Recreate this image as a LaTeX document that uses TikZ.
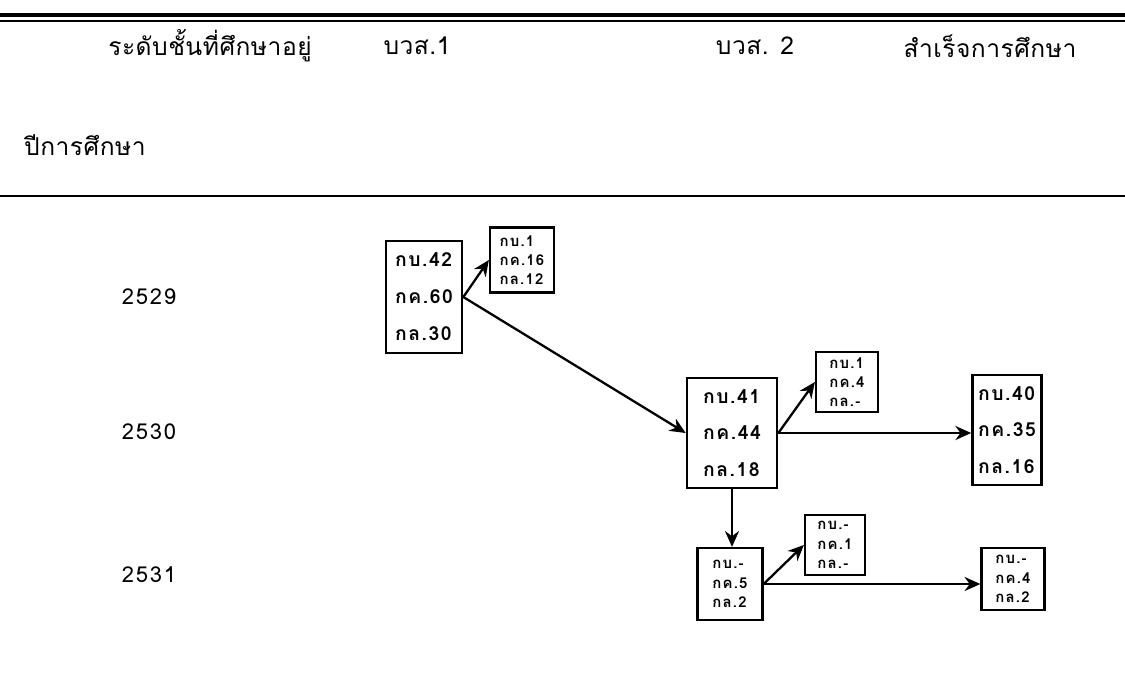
\documentclass[tikz,border=0pt]{standalone}
\usepackage{fontspec}
\newfontfamily\thaifont[Script=Thai,LetterSpace=2]{Loma}
\newfontfamily\boxfont[Script=Thai,LetterSpace=8]{Loma}
\usetikzlibrary{arrows.meta}

\begin{document}
\begin{tikzpicture}[
    x=0.02cm, y=-0.02cm,
    font=\boxfont\bfseries\fontsize{11}{21}\selectfont,
    >={Stealth[length=9pt,width=8pt]},
    tally/.style={draw, line width=1.5pt, align=left, inner sep=0pt},
    tallysmall/.style={tally, line width=1.3pt, font=\boxfont\bfseries\fontsize{8.5}{11}\selectfont},
    heading/.style={font=\thaifont\fontsize{14}{16}\selectfont},
    year/.style={font=\boxfont\fontsize{12.5}{14}\selectfont},
    link/.style={->, line width=1.3pt}
]

% One pixel of the scan
\def\px{0.02cm}

\useasboundingbox (0,0) rectangle (1125,694);

% Table rules
\draw[line width=2pt] (0,15) -- (1125,15);
\draw[line width=1.2pt] (0,21) -- (1125,21);
\draw[line width=1.6pt] (0,196) -- (1125,196);

% Column headers
\node[heading] (hlevel) at (210,46) {ระดับชั้นที่ศึกษาอยู่};
\node[heading] (hone) at (417,46) {บวส.1};
\node[heading] (htwo) at (755,46) {บวส. 2};
\node[heading] (hdone) at (990,46) {สำเร็จการศึกษา};
\node[heading, anchor=west] (hyear) at (18,145) {ปีการศึกษา};

% Year labels
\node[year] (y29) at (149,297) {2529};
\node[year] (y30) at (149,432) {2530};
\node[year] (y31) at (149,575) {2531};

% Large boxes
\node[tally, minimum width=76*\px, minimum height=112*\px] (A) at (424,297) {กบ.42\\กค.60\\กล.30};
\node[tally, minimum width=90*\px, minimum height=110*\px] (C) at (732,433) {กบ.41\\กค.44\\กล.18};
\node[tally, minimum width=69*\px, minimum height=110*\px] (D) at (1007,430) {กบ.40\\กค.35\\กล.16};

% Small boxes
\node[tallysmall, minimum width=64*\px, minimum height=65*\px] (B1) at (522,260) {กบ.1\\กค.16\\กล.12};
\node[tallysmall, minimum width=62*\px, minimum height=60*\px] (B2) at (847,382) {กบ.1\\กค.4\\กล.-};
\node[tallysmall, minimum width=65*\px, minimum height=72*\px] (E) at (730,584) {กบ.-\\กค.5\\กล.2};
\node[tallysmall, minimum width=60*\px, minimum height=60*\px] (F) at (835,545) {กบ.-\\กค.1\\กล.-};
\node[tallysmall, minimum width=63*\px, minimum height=62*\px] (G) at (1013,579) {กบ.-\\กค.4\\กล.2};

% Flows
\draw[link] (A.east) -- (B1.west);
\draw[link] (A.east) -- (C.west);
\draw[link] (C.east) -- (B2.west);
\draw[link] (C.east) -- (C.east -| D.west);
\draw[link] (C.south) -- (C.south |- E.north);
\draw[link] (E.east) -- (F.west);
\draw[link] (E.east) -- (E.east -| G.west);

\end{tikzpicture}
\end{document}
